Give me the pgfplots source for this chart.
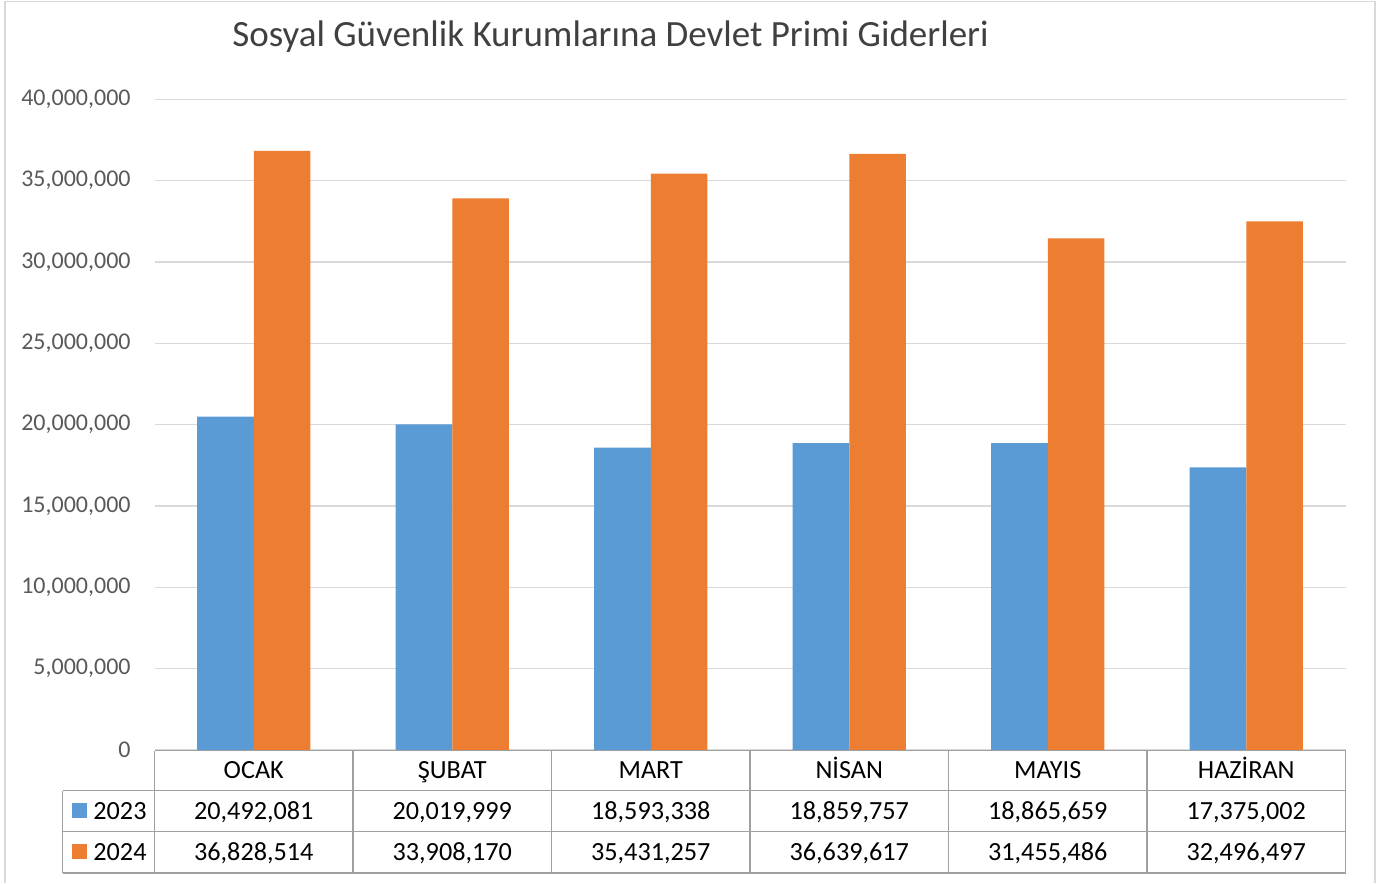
\documentclass[border=0pt]{standalone}
\usepackage{pgfplots}
\pgfplotsset{compat=1.18}
\usepackage{pgfplotstable}
\usepackage{fontspec}
\setmainfont{Carlito}
\definecolor{c23}{HTML}{5B9BD5}
\definecolor{c24}{HTML}{ED7D31}
\definecolor{gridc}{HTML}{D9D9D9}
\definecolor{tickc}{HTML}{595959}
\definecolor{titlec}{HTML}{404040}
\definecolor{tblc}{HTML}{A0A0A0}
\pgfplotstableread{
x y23 y24
0 20492081 36828514
1 20019999 33908170
2 18593338 35431257
3 18859757 36639617
4 18865659 31455486
5 17375002 32496497
}\datatable
\begin{document}
\begin{tikzpicture}[x=0.5pt,y=0.5pt]
\path[use as bounding box] (0,0) rectangle (1384,883);
\draw[gridc, line width=0.75pt] (5,0) -- (5,881.5) -- (1375,881.5) -- (1375,0);
\node[anchor=base, inner sep=0pt, font=\fontsize{18.5}{22}\selectfont, text=titlec] at (610.5,{883-47}) {Sosyal Güvenlik Kurumlarına Devlet Primi Giderleri};
\begin{axis}[
  at={(77.25pt,66.5pt)}, anchor=south west,
  scale only axis, width=595.5pt, height=325.35pt,
  xmin=-0.5, xmax=5.5, ymin=0, ymax=40000000,
  ytick={0,5000000,10000000,15000000,20000000,25000000,30000000,35000000,40000000},
  xtick=\empty,
  ymajorgrids, grid style={gridc, line width=0.75pt},
  axis line style={draw=none},
  major tick length=0pt,
  scaled y ticks=false,
  yticklabel style={font=\fontsize{12}{14}\selectfont, text=tickc, inner sep=0pt},
  yticklabel shift=11.75pt,
  /pgf/number format/fixed,
  /pgf/number format/1000 sep={,},
  /pgf/number format/assume math mode=true,
  clip=false,
]
\addplot[ybar, bar width=0.285, bar shift=-0.1425, fill=c23, draw=none] table[x=x,y=y23]{\datatable};
\addplot[ybar, bar width=0.285, bar shift=0.1425, fill=c24, draw=none] table[x=x,y=y24]{\datatable};
\end{axis}
% data table
\begin{scope}[tblc, line width=0.75pt]
\draw (154.5,{883-750.5}) -- (1345.5,{883-750.5});
\draw (62.5,{883-790.5}) -- (1345.5,{883-790.5});
\draw (62.5,{883-831.5}) -- (1345.5,{883-831.5});
\draw (62.5,{883-873}) -- (1345.5,{883-873});
\draw (62.5,{883-790.5}) -- (62.5,{883-873});
\foreach \k in {0,...,6} {
  \draw ({154.5+198.5*\k},{883-750.5}) -- ({154.5+198.5*\k},{883-873});
}
\end{scope}
\begin{scope}[every node/.style={anchor=base, inner sep=0pt, font=\fontsize{13.1}{16}\selectfont, text=black}]
\foreach \m [count=\i from 0] in {OCAK,ŞUBAT,MART,NİSAN,MAYIS,HAZİRAN} {
  \node at ({253.75+198.5*\i},{883-778.3}) {\m};
}
\foreach \v [count=\i from 0] in {20,492,081/20,019,999/18,593,338/18,859,757/18,865,659/17,375,002} {
}
\node at ({253.75+198.5*0},{883-819.3}) {20,492,081};
\node at ({253.75+198.5*1},{883-819.3}) {20,019,999};
\node at ({253.75+198.5*2},{883-819.3}) {18,593,338};
\node at ({253.75+198.5*3},{883-819.3}) {18,859,757};
\node at ({253.75+198.5*4},{883-819.3}) {18,865,659};
\node at ({253.75+198.5*5},{883-819.3}) {17,375,002};
\node at ({253.75+198.5*0},{883-860.3}) {36,828,514};
\node at ({253.75+198.5*1},{883-860.3}) {33,908,170};
\node at ({253.75+198.5*2},{883-860.3}) {35,431,257};
\node at ({253.75+198.5*3},{883-860.3}) {36,639,617};
\node at ({253.75+198.5*4},{883-860.3}) {31,455,486};
\node at ({253.75+198.5*5},{883-860.3}) {32,496,497};
\node[anchor=base west] at (93,{883-819.3}) {2023};
\node[anchor=base west] at (93,{883-860.3}) {2024};
\end{scope}
\fill[c23] (72,{883-803}) rectangle (87,{883-818});
\fill[c24] (72,{883-844}) rectangle (87,{883-859});
\end{tikzpicture}
\end{document}
